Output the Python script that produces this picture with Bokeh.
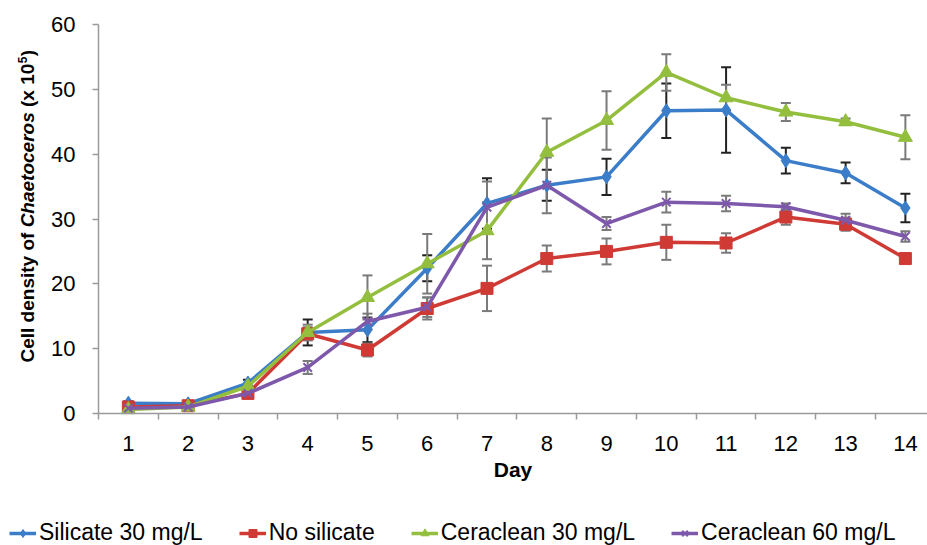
import numpy as np
import math
from bokeh.plotting import figure
from bokeh.models import (Range1d, FixedTicker, Whisker, TeeHead, Label, Legend,
                          LegendItem, ColumnDataSource)
from bokeh.embed import file_html
from bokeh.resources import INLINE

# ---- data ----
days = [1, 2, 3, 4, 5, 6, 7, 8, 9, 10, 11, 12, 13, 14]
silicate_30 = [1.6, 1.5, 4.7, 12.5, 12.9, 22.4, 32.4, 35.2, 36.5, 46.7, 46.8, 39.0, 37.1, 31.7]
silicate_30_err = [0.3, 0.3, 0.5, 2.0, 1.9, 2.0, 3.9, 2.4, 2.8, 4.2, 6.6, 2.0, 1.6, 2.2]
no_silicate = [1.0, 1.2, 3.1, 12.3, 9.8, 16.2, 19.3, 23.9, 25.0, 26.4, 26.3, 30.3, 29.2, 23.9]
no_silicate_err = [0.3, 0.3, 0.5, 1.0, 1.0, 1.7, 3.5, 2.0, 2.0, 2.7, 1.5, 1.2, 1.0, 0.6]
ceraclean_30 = [0.6, 1.0, 4.2, 12.5, 17.9, 23.1, 28.2, 40.3, 45.2, 52.6, 48.7, 46.5, 45.0, 42.6]
ceraclean_30_err = [0.2, 0.2, 0.4, 1.2, 3.4, 4.6, 4.4, 5.2, 4.5, 2.8, 2.0, 1.4, 0.5, 3.4]
ceraclean_60 = [0.8, 1.0, 3.1, 7.1, 14.2, 16.4, 31.8, 35.2, 29.3, 32.6, 32.4, 31.9, 29.8, 27.3]
ceraclean_60_err = [0.2, 0.2, 0.4, 1.0, 1.2, 1.5, 4.0, 4.3, 1.0, 1.6, 1.2, 0.5, 1.0, 0.8]

series_names = ["Silicate 30 mg/L", "No silicate", "Ceraclean 30 mg/L", "Ceraclean 60 mg/L"]
y_ticks = [0, 10, 20, 30, 40, 50, 60]
y_min, y_max = 0, 60
x_min, x_max = 0.5, 14.37

FONT = "Liberation Sans"

# frame covers the whole canvas; axes are pinned with fixed_location
W, H = 927, 545
ax_left, ax_top, ax_bottom = 98, 24, 413
ppu_y = (ax_bottom - ax_top) / (y_max - y_min)
ppu_x = (W - ax_left) / (x_max - x_min)
xr = Range1d(x_min - ax_left / ppu_x, x_max)
yr = Range1d(y_min - (H - ax_bottom) / ppu_y, y_max + ax_top / ppu_y)

p = figure(width=W, height=H, output_backend="svg", toolbar_location=None,
           x_range=xr, y_range=yr, min_border=0,
           background_fill_color="white", border_fill_color="white")
p.outline_line_color = None
p.xgrid.visible = False
p.ygrid.visible = False

axis_color = "#9a9a9a"
# y axis
p.yaxis.fixed_location = x_min
p.yaxis.bounds = (y_min, y_max)
p.yaxis.ticker = FixedTicker(ticks=y_ticks)
p.yaxis.axis_line_color = axis_color
p.yaxis.axis_line_width = 1.5
p.yaxis.major_tick_line_color = axis_color
p.yaxis.major_tick_line_width = 1.5
p.yaxis.major_tick_out = 6
p.yaxis.major_tick_in = 0
p.yaxis.minor_tick_line_color = None
p.yaxis.major_label_text_font = FONT
p.yaxis.major_label_text_font_size = "22px"
p.yaxis.major_label_text_color = "black"
p.yaxis.major_label_standoff = 17

# x axis: labels at day centres, ticks at boundaries
boundaries = [d - 0.5 for d in days] + [days[-1] + 0.5]
p.xaxis.fixed_location = y_min
p.xaxis.bounds = (x_min, x_max)
p.xaxis.ticker = FixedTicker(ticks=days, minor_ticks=boundaries)
p.xaxis.axis_line_color = axis_color
p.xaxis.axis_line_width = 1.5
p.xaxis.major_tick_line_color = None
p.xaxis.major_tick_out = 0
p.xaxis.major_tick_in = 0
p.xaxis.minor_tick_line_color = axis_color
p.xaxis.minor_tick_line_width = 1.5
p.xaxis.minor_tick_out = 6
p.xaxis.minor_tick_in = 0
p.xaxis.major_label_text_font = FONT
p.xaxis.major_label_text_font_size = "22px"
p.xaxis.major_label_text_color = "black"
p.xaxis.major_label_standoff = 16
p.xaxis.axis_label = "Day"
p.xaxis.axis_label_text_font = FONT
p.xaxis.axis_label_text_font_size = "21px"
p.xaxis.axis_label_text_font_style = "bold"
p.xaxis.axis_label_text_color = "black"
p.xaxis.axis_label_standoff = 4

colors = ["#3b7dc8", "#cf3a35", "#93be3e", "#7d58ab"]
err_colors = ["#222222", "#7a7a7a", "#7a7a7a", "#7a7a7a"]
markers = ["diamond", "square", "triangle", "x"]
sizes = [14, 12, 14, 12]
values = [silicate_30, no_silicate, ceraclean_30, ceraclean_60]
errors = [silicate_30_err, no_silicate_err, ceraclean_30_err, ceraclean_60_err]

items = []
for i in range(4):
    v = np.array(values[i])
    e = np.array(errors[i])
    src = ColumnDataSource(dict(day=days, y=v, upper=v + e, lower=v - e))
    w = Whisker(base="day", upper="upper", lower="lower", source=src,
                line_color=err_colors[i], line_width=2, level="underlay",
                upper_head=TeeHead(size=10, line_color=err_colors[i], line_width=2),
                lower_head=TeeHead(size=10, line_color=err_colors[i], line_width=2))
    p.add_layout(w)

for i in range(4):
    src = ColumnDataSource(dict(day=days, y=values[i]))
    ln = p.line("day", "y", source=src, line_color=colors[i], line_width=3.5)
    if markers[i] == "x":
        mk = p.scatter("day", "y", source=src, marker="x", size=sizes[i],
                       line_color=colors[i], line_width=2)
    else:
        mk = p.scatter("day", "y", source=src, marker=markers[i], size=sizes[i],
                       fill_color=colors[i], line_color=colors[i], line_width=1)
    items.append(LegendItem(label=series_names[i], renderers=[ln, mk]))

legend = Legend(items=items, orientation="horizontal", location=(9, -1),
                padding=0, margin=0, spacing=36, glyph_width=27, glyph_height=20,
                label_standoff=3, label_text_font=FONT, label_text_font_size="23px",
                label_text_color="black", border_line_color=None,
                background_fill_alpha=0)
p.add_layout(legend, "center")

# y-axis title made of pieces (italic genus name, superscript exponent)
lx = 27
common = dict(x_units="screen", y_units="screen", angle=math.pi / 2,
              text_font=FONT, text_color="black", text_align="left",
              text_baseline="middle")
fs = 19
space = 0.278 * fs
y0 = H - 362
w_cell = 6.835 * fs          # "Cell density of"
w_genus = 6.057 * fs         # "Chaetoceros"
w_paren = 2.279 * fs         # "(x 10"
y1 = y0 + w_cell + space
y2 = y1 + w_genus + space
y3 = y2 + w_paren
p.add_layout(Label(x=lx, y=y0, text="Cell density of", text_font_size=f"{fs}px",
                   text_font_style="bold", **common))
p.add_layout(Label(x=lx, y=y1, text="Chaetoceros", text_font_size=f"{fs}px",
                   text_font_style="bold italic", **common))
p.add_layout(Label(x=lx, y=y2, text="(x 10", text_font_size=f"{fs}px",
                   text_font_style="bold", **common))
p.add_layout(Label(x=lx - 5, y=y3 + 0.5, text="5", text_font_size="12px",
                   text_font_style="bold", **common))
p.add_layout(Label(x=lx, y=y3 + 7.5, text=")", text_font_size=f"{fs}px",
                   text_font_style="bold", **common))

open("out.html", "w").write(file_html(p, INLINE))
